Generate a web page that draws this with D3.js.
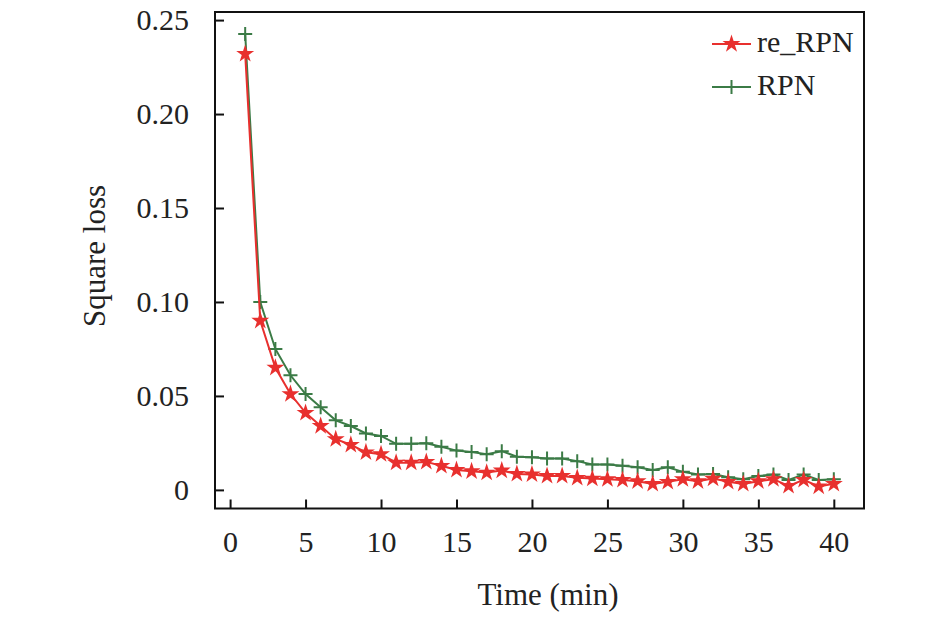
<!DOCTYPE html>
<html>
<head>
<meta charset="utf-8">
<script src="https://cdn.jsdelivr.net/npm/d3@7"></script>
<style>
  html, body { margin: 0; padding: 0; background: #fff; }
  svg { display: block; }
</style>
</head>
<body>
<div id="chart"></div>
<script>
// Training time (minutes) and square loss of the two models
const times = d3.range(1, 41);

const reRPN = [
  0.232, 0.090, 0.065, 0.051, 0.041, 0.034, 0.027, 0.024, 0.020, 0.019,
  0.0145, 0.0145, 0.0149, 0.0128, 0.0106, 0.0099, 0.0092, 0.0103, 0.0085, 0.0082,
  0.0074, 0.0074, 0.0064, 0.0060, 0.0057, 0.0053, 0.0046, 0.0032, 0.0043, 0.0057,
  0.0046, 0.0060, 0.0043, 0.0032, 0.0046, 0.0057, 0.0021, 0.0053, 0.0018, 0.0032
];

const RPN = [
  0.2426, 0.100, 0.075, 0.061, 0.051, 0.044, 0.037, 0.034, 0.030, 0.0287,
  0.0245, 0.0245, 0.0248, 0.0230, 0.0209, 0.0202, 0.0190, 0.0206, 0.0177, 0.0174,
  0.0167, 0.0167, 0.0153, 0.0135, 0.0135, 0.0128, 0.0120, 0.0106, 0.0120, 0.0096,
  0.0082, 0.0085, 0.0067, 0.0057, 0.0074, 0.0082, 0.0053, 0.0082, 0.0053, 0.0057
];

const xTicks = [0, 5, 10, 15, 20, 25, 30, 35, 40];
const yTicks = [0, 0.05, 0.10, 0.15, 0.20, 0.25];

const W = 945, H = 617;
const FONT = "'Liberation Serif', 'Times New Roman', serif";

const svg = d3.select("#chart").append("svg")
  .attr("width", W).attr("height", H)
  .style("font-family", FONT);

const x = d3.scaleLinear().domain([-1, 42]).range([215, 864]);
const y = d3.scaleLinear().domain([-0.0099, 0.2543]).range([508.5, 12]);

const series = [
  { name: "re_RPN", values: reRPN, color: "#e8302e", marker: "star" },
  { name: "RPN",    values: RPN,   color: "#3b7b46", marker: "plus" }
];

// plus marker: thin stroked cross
const plusPath = (cx, cy, r) => `M${cx - r},${cy}H${cx + r}M${cx},${cy - r}V${cy + r}`;
const star = d3.symbol().type(d3.symbolStar).size(100);

const line = d3.line().x((d, i) => x(times[i])).y(d => y(d));

// draw RPN first so re_RPN sits on top
[series[1], series[0]].forEach(s => {
  svg.append("path")
    .datum(s.values)
    .attr("d", line)
    .attr("fill", "none")
    .attr("stroke", s.color)
    .attr("stroke-width", 2);

  if (s.marker === "star") {
    svg.selectAll(null).data(s.values).join("path")
      .attr("d", star)
      .attr("transform", (d, i) => `translate(${x(times[i])},${y(d)})`)
      .attr("fill", s.color);
  } else {
    svg.selectAll(null).data(s.values).join("path")
      .attr("d", (d, i) => plusPath(x(times[i]), y(d), 7))
      .attr("stroke", s.color)
      .attr("stroke-width", 2)
      .attr("fill", "none");
  }
});

// frame
svg.append("rect")
  .attr("x", 215).attr("y", 12)
  .attr("width", 864 - 215).attr("height", 508.5 - 12)
  .attr("fill", "none").attr("stroke", "#111").attr("stroke-width", 2);

// x axis, ticks pointing inward
svg.append("g")
  .attr("transform", "translate(0,508.5)")
  .call(d3.axisBottom(x).tickValues(xTicks).tickSize(-9).tickPadding(22).tickFormat(d3.format("d")))
  .call(g => g.select(".domain").remove())
  .call(g => g.selectAll(".tick line").attr("stroke", "#111").attr("stroke-width", 2))
  .call(g => g.selectAll(".tick text")
    .attr("fill", "#222").attr("font-size", 30).attr("font-family", FONT));

// y axis
svg.append("g")
  .attr("transform", "translate(215,0)")
  .call(d3.axisLeft(y).tickValues(yTicks).tickSize(-9).tickPadding(26)
    .tickFormat(d => d === 0 ? "0" : d3.format(".2f")(d)))
  .call(g => g.select(".domain").remove())
  .call(g => g.selectAll(".tick line").attr("stroke", "#111").attr("stroke-width", 2))
  .call(g => g.selectAll(".tick text")
    .attr("fill", "#222").attr("font-size", 30).attr("font-family", FONT));

// axis titles
svg.append("text")
  .attr("x", 548).attr("y", 605)
  .attr("text-anchor", "middle").attr("font-size", 31).attr("fill", "#222")
  .text("Time (min)");

svg.append("text")
  .attr("transform", "translate(105,256) rotate(-90)")
  .attr("text-anchor", "middle").attr("font-size", 31).attr("fill", "#222")
  .text("Square loss");

// legend
const legend = svg.append("g");
series.forEach((s, i) => {
  const ly = 44 + i * 43;
  legend.append("line")
    .attr("x1", 712).attr("x2", 751).attr("y1", ly).attr("y2", ly)
    .attr("stroke", s.color).attr("stroke-width", 2);
  if (s.marker === "star") {
    legend.append("path").attr("d", star)
      .attr("transform", `translate(731.5,${ly})`).attr("fill", s.color);
  } else {
    legend.append("path").attr("d", plusPath(731.5, ly, 7))
      .attr("stroke", s.color).attr("stroke-width", 2);
  }
  legend.append("text")
    .attr("x", 757).attr("y", ly + 8)
    .attr("font-size", 30).attr("fill", "#222")
    .text(s.name);
});
</script>
</body>
</html>
